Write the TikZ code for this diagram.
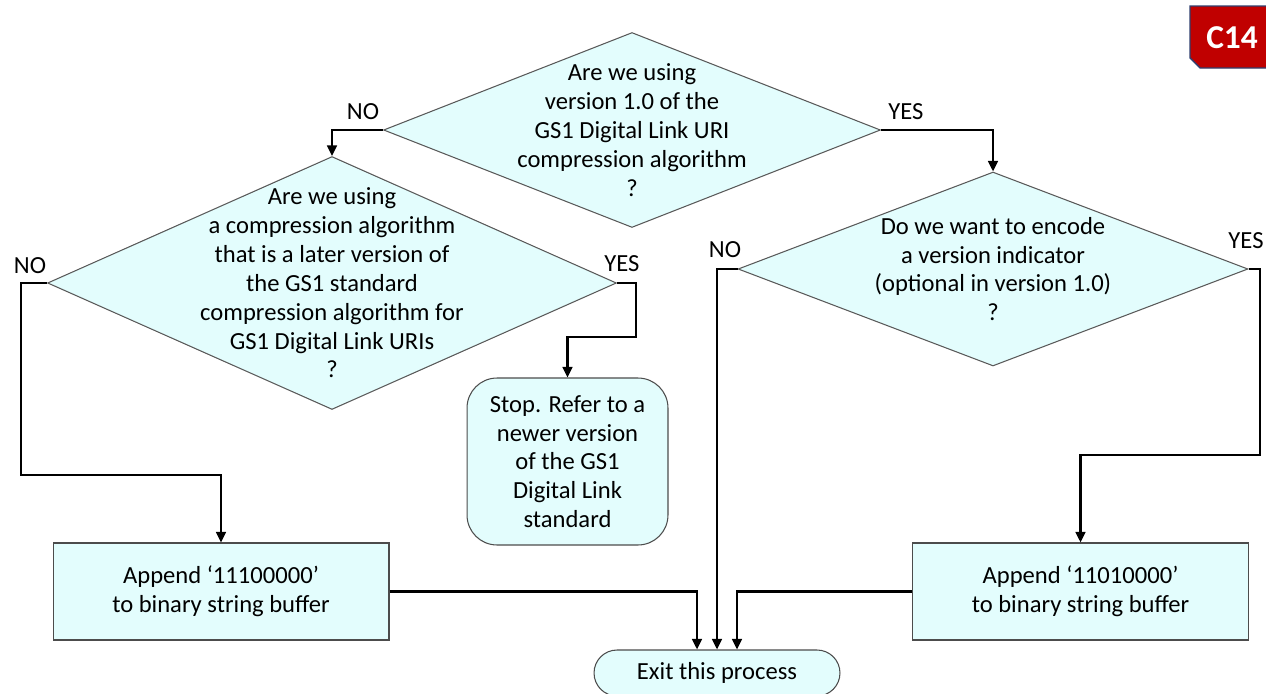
\documentclass[tikz,border=0pt]{standalone}
\usepackage{fontspec}
\setmainfont{Carlito}
\usetikzlibrary{shapes.geometric,arrows.meta}
\definecolor{boxfill}{HTML}{E3FDFD}
\definecolor{badgered}{HTML}{C00000}
\definecolor{badgeline}{HTML}{2F3F6F}

\begin{document}
\begin{tikzpicture}[x=0.02cm,y=-0.02cm,
  txt/.style={align=center,font=\fontsize{14}{16.4}\selectfont},
  dia/.style={diamond,draw=gray!70!black,fill=boxfill,line width=0.6pt,inner sep=0pt},
  proc/.style={rectangle,draw=gray!60!black,fill=boxfill,line width=0.6pt,
    minimum width=6.72cm,minimum height=1.94cm,txt},
  stopbox/.style={rectangle,rounded corners=0.6cm,draw=gray!60!black,fill=boxfill,
    line width=0.6pt,minimum width=4.02cm,minimum height=3.34cm,txt},
  term/.style={rectangle,rounded corners=0.46cm,draw=gray!60!black,fill=boxfill,line width=0.6pt,
    minimum width=4.92cm,minimum height=0.92cm,txt},
  yn/.style={font=\fontsize{14}{16}\selectfont},
  flow/.style={line width=1.4pt,-{Triangle[length=6pt,width=5.5pt]}}]
\clip (0,0) rectangle (1266,693);

% badge
\filldraw[fill=badgered,draw=badgeline,line width=0.8pt]
  (1190,6)--(1268,6)--(1268,68)--(1200,68)--(1190,58)--cycle;
\node[text=white,font=\fontsize{19}{20}\selectfont\bfseries] (badge) at (1232,38) {C14};

% questions
\node[dia,minimum width=9.94cm,minimum height=3.9cm,
  label={[txt]center:Are we using\\version 1.0 of the\\GS1 Digital Link URI\\compression algorithm\\?}]
  (q1) at (632,130) {};
\node[dia,minimum width=11.38cm,minimum height=5.06cm,
  label={[txt]center:Are we using\\a compression algorithm\\that is a later version of\\the GS1 standard\\compression algorithm for\\GS1 Digital Link URIs\\?}]
  (q2) at (332,283) {};
\node[dia,minimum width=10.2cm,minimum height=3.88cm,
  label={[txt]center:Do we want to encode\\a version indicator\\(optional in version 1.0)\\?}]
  (q3) at (993,269) {};

% actions
\node[stopbox] (stop) at (567.5,461.5) {Stop. Refer to a\\newer version\\of the GS1\\Digital Link\\standard};
\node[proc] (appL) at (221,591.5) {Append ‘11100000’\\to binary string buffer};
\node[proc] (appR) at (1080.5,591.5) {Append ‘11010000’\\to binary string buffer};
\node[term] (exit) at (717,673) {Exit this process};

% bends
\coordinate (nL) at (21,475);
\coordinate (yL) at (636,337);
\coordinate (yR) at (1260,455);

% connectors
\draw[flow] (q1.west) -| (q2.north);
\draw[flow] (q1.east) -| (q3.north);
\draw[flow] (q2.west) -| (nL) -| (appL.north);
\draw[flow] (q2.east) -| (yL) -| (stop.north);
\draw[flow] (q3.west) -| (exit.north);
\draw[flow] (q3.east) -| (yR) -| (appR.north);
\draw[flow] (appL.east) -| ([xshift=-0.4cm]exit.north);
\draw[flow] (appR.west) -| ([xshift=0.4cm]exit.north);

% answers
\node[yn] (no1) at (363,112) {NO};
\node[yn] (yes1) at (906,112) {YES};
\node[yn] (no2) at (30,266) {NO};
\node[yn] (yes2) at (622,264) {YES};
\node[yn] (no3) at (725,250) {NO};
\node[yn] (yes3) at (1246,241) {YES};
\end{tikzpicture}
\end{document}
